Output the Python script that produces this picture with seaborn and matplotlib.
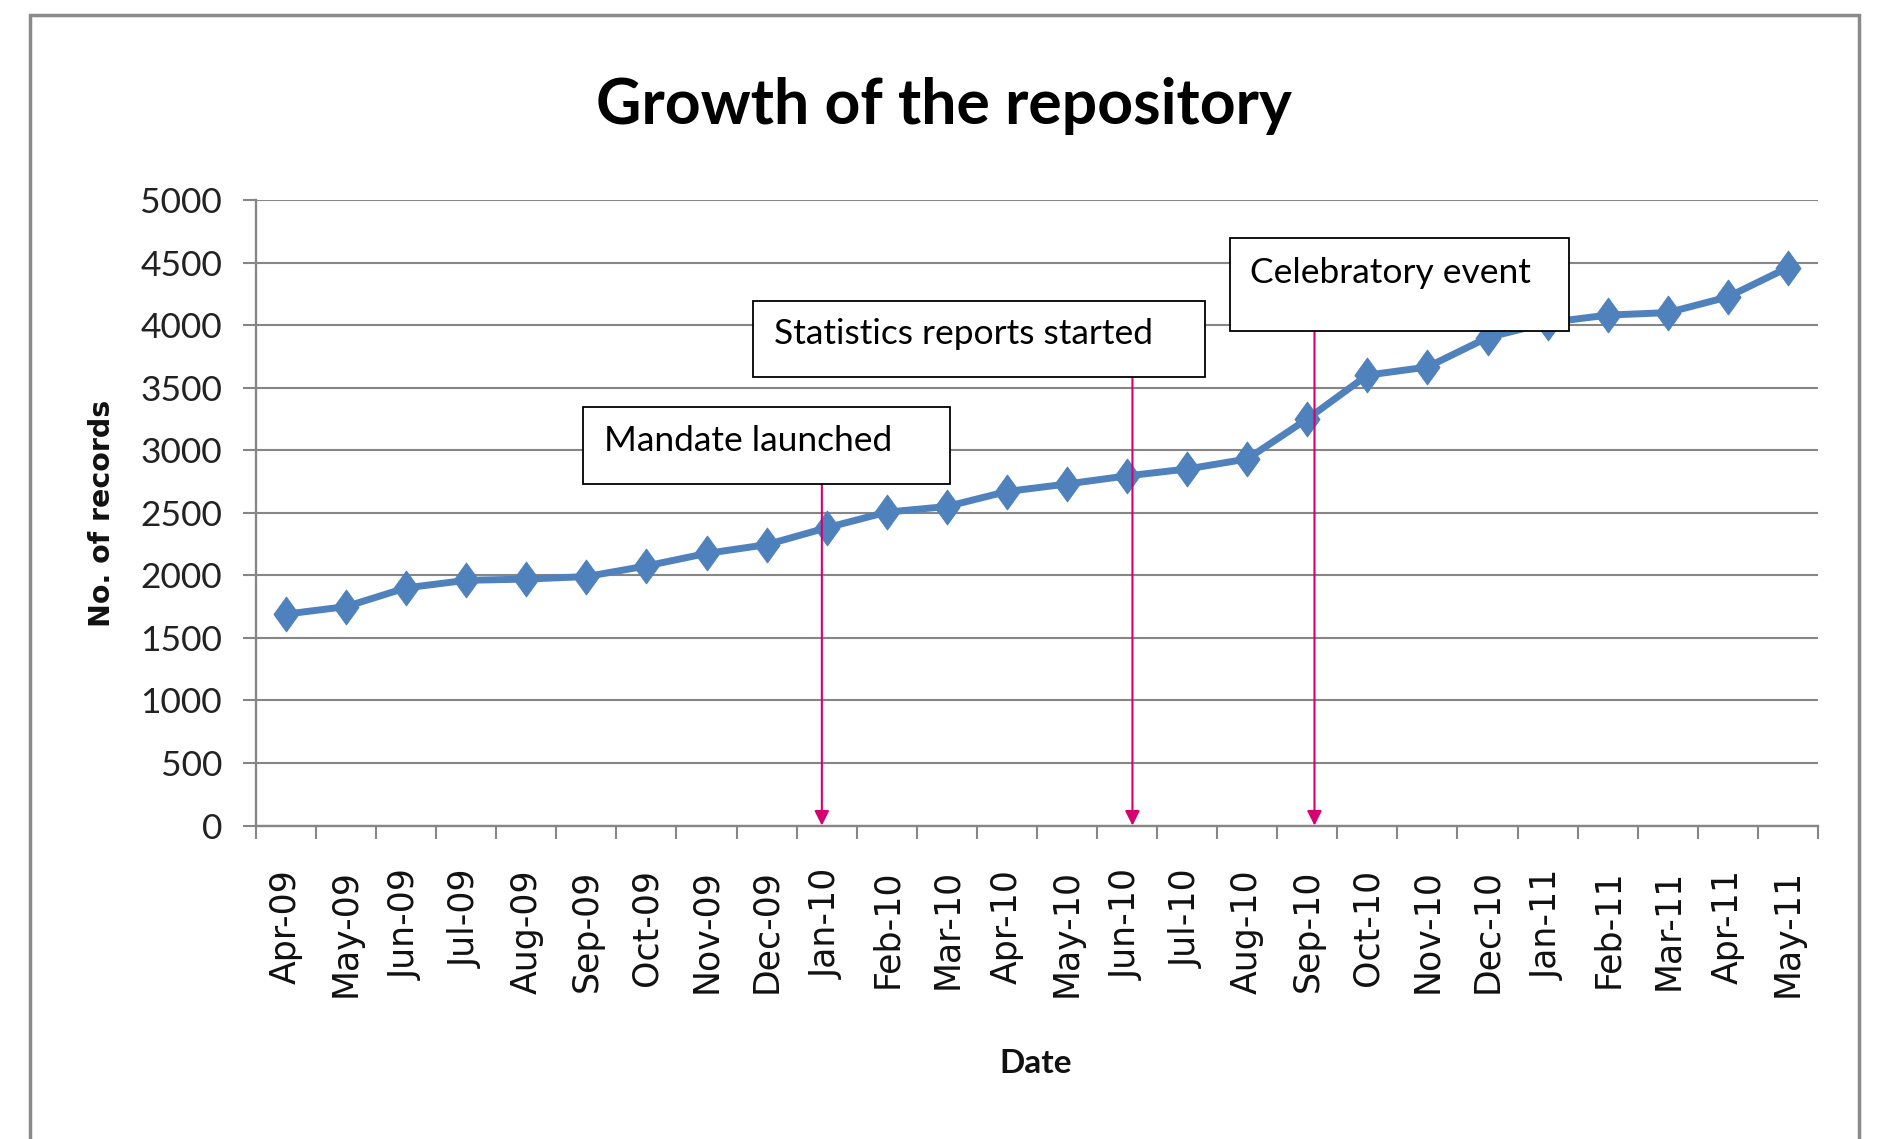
import matplotlib
matplotlib.use("Agg")
import matplotlib.pyplot as plt
from matplotlib.patches import Rectangle
from matplotlib.path import Path
import seaborn as sns
import pandas as pd

# ---------------- data ----------------
months = ['Apr-09', 'May-09', 'Jun-09', 'Jul-09', 'Aug-09', 'Sep-09', 'Oct-09',
          'Nov-09', 'Dec-09', 'Jan-10', 'Feb-10', 'Mar-10', 'Apr-10', 'May-10',
          'Jun-10', 'Jul-10', 'Aug-10', 'Sep-10', 'Oct-10', 'Nov-10', 'Dec-10',
          'Jan-11', 'Feb-11', 'Mar-11', 'Apr-11', 'May-11']
records = [1690, 1750, 1900, 1960, 1970, 1990, 2075, 2175, 2245, 2380, 2505,
           2550, 2670, 2730, 2795, 2850, 2930, 3250, 3600, 3665, 3900, 4020,
           4080, 4100, 4225, 4460]
y_ticks = [0, 500, 1000, 1500, 2000, 2500, 3000, 3500, 4000, 4500, 5000]
event_labels = ['Mandate launched', 'Statistics reports started', 'Celebratory event']
event_months = ['Jan-10', 'Jun-10', 'Sep-10']

title = 'Growth of the repository'
x_label = 'Date'
y_label = 'No. of records'

# ---------------- style ----------------
sns.set_style("white")
plt.rcParams['font.family'] = ['Lato', 'DejaVu Sans']

GRID = '#868686'
BLUE = '#4F81BD'
MAG = '#D6006F'

fig = plt.figure(figsize=(18.79, 11.39), dpi=100)
ax = fig.add_axes([0.1362, 0.2752, 0.9675 - 0.1362, 0.8244 - 0.2752])

df = pd.DataFrame({'Date': months, 'Records': records})
diamond = Path([(0, 1), (0.72, 0), (0, -1), (-0.72, 0), (0, 1)],
               [Path.MOVETO, Path.LINETO, Path.LINETO, Path.LINETO, Path.CLOSEPOLY])
sns.lineplot(data=df, x='Date', y='Records', sort=False, ax=ax, color=BLUE,
             linewidth=5, marker=diamond, markersize=25,
             markeredgecolor=BLUE, markerfacecolor=BLUE, zorder=3)

ax.set_xlim(-0.5, len(months) - 0.5)
ax.set_ylim(0, 5000)
ax.set_yticks(y_ticks)
ax.set_yticklabels([str(v) for v in y_ticks], fontsize=25.5, color='#222222')
ax.set_xticks(range(len(months)))
ax.set_xticklabels(months, rotation=90, fontsize=25, family='DejaVu Sans',
                   color='#111111')
ax.set_xticks([i - 0.5 for i in range(len(months) + 1)], minor=True)
ax.tick_params(axis='x', which='major', length=0, pad=22 + 9.4)
ax.tick_params(axis='x', which='minor', length=9.4, width=1.5, color=GRID,
               direction='out', bottom=True)
ax.tick_params(axis='y', which='major', length=9.4, width=1.5, color=GRID,
               direction='out', left=True, pad=15)

ax.grid(axis='y', color=GRID, linewidth=1.5, zorder=0)
ax.grid(axis='x', visible=False)
for side in ['top', 'right']:
    ax.spines[side].set_visible(False)
for side in ['left', 'bottom']:
    ax.spines[side].set_color(GRID)
    ax.spines[side].set_linewidth(1.7)

ax.set_xlabel('')
ax.set_ylabel('')
fig.text(0.551, 0.0667, x_label, ha='center', va='center', fontsize=24,
         fontweight='bold', color='#111111')
fig.text(0.0545, 0.5496, y_label, ha='center', va='center', rotation=90,
         fontsize=20.5, fontweight='bold', family='DejaVu Sans', color='#111111')
fig.text(0.5025, 0.907, title, ha='center', va='center', fontsize=45,
         fontweight='bold', color='#000000')

# ---------------- annotations ----------------
# (box x0, box x1, box y0, box y1, text x, text y, arrow offset)
geo = [(4.95, 11.06, 2730, 3343, 5.29, 3075, -0.08),
       (7.78, 15.29, 3582, 4195, 8.12, 3927, 0.09),
       (15.71, 21.36, 3956, 4693, 16.05, 4416, 0.12)]
for lab, mon, (x0, x1, y0, y1, tx, ty, off) in zip(event_labels, event_months, geo):
    xi = months.index(mon) + off
    ax.annotate('', xy=(xi, 0), xytext=(xi, y0),
                arrowprops=dict(arrowstyle='-|>', color=MAG, lw=1.5,
                                mutation_scale=22, shrinkA=0, shrinkB=0),
                zorder=4, annotation_clip=False)
    ax.add_patch(Rectangle((x0, y0), x1 - x0, y1 - y0, facecolor='white',
                           edgecolor='black', linewidth=1.3, zorder=5,
                           clip_on=False))
    ax.text(tx, ty, lab, ha='left', va='center', fontsize=25.5, color='#000000',
            zorder=6)

# outer border
fig.patches.append(Rectangle((30 / 1879, -0.05), (1859 - 30) / 1879, 1.05 - 15 / 1139,
                             transform=fig.transFigure, facecolor='none',
                             edgecolor='#8A8A8A', linewidth=2.5, zorder=10))

fig.savefig('out.png', dpi=100, facecolor='white')
